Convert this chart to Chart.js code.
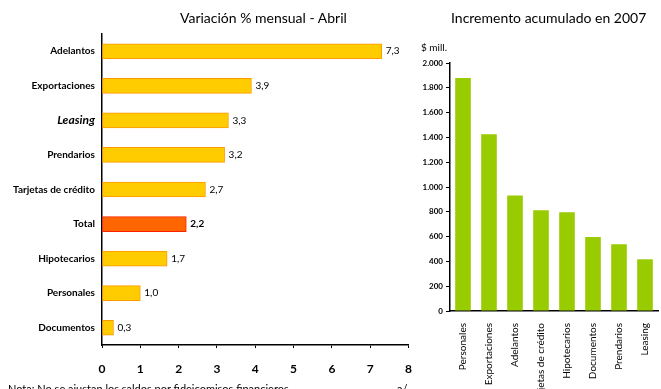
<!DOCTYPE html>
<html>
<head>
<meta charset="utf-8">
<script src="https://cdn.jsdelivr.net/npm/chart.js@4"></script>
<style>
  html, body { margin: 0; padding: 0; background: #fff; overflow: hidden; }
  body { width: 661px; height: 389px; position: relative; font-family: Lato, sans-serif; color: #000; }
  .title { position: absolute; top: 9px; font-size: 14px; white-space: nowrap; }
  #wrapLeft { position: absolute; left: 0; top: 0; width: 426px; height: 389px; }
  #wrapRight { position: absolute; left: 410px; top: 0; width: 251px; height: 389px; }
  .unit { position: absolute; left: 421px; top: 41px; font-size: 10px; }
  .note { position: absolute; left: 8px; top: 382px; font-size: 11px; white-space: nowrap; }
  .ref { position: absolute; left: 397px; top: 382px; font-size: 11px; }
</style>
</head>
<body>
<div id="wrapLeft"><canvas id="variacionChart"></canvas></div>
<div id="wrapRight"><canvas id="incrementoChart"></canvas></div>
<div class="title" style="left:180px">Variación % mensual - Abril</div>
<div class="title" style="left:451px">Incremento acumulado en 2007</div>
<div class="unit">$ mill.</div>
<div class="note">Nota: No se ajustan los saldos por fideicomisos financieros</div>
<div class="ref">a/</div>
<script>
// variación mensual (%) por línea de préstamo
const lineas = ['Adelantos', 'Exportaciones', 'Leasing', 'Prendarios', 'Tarjetas de crédito', 'Total', 'Hipotecarios', 'Personales', 'Documentos'];
const variacion = [7.3, 3.9, 3.3, 3.2, 2.7, 2.2, 1.7, 1.0, 0.3];

// incremento acumulado en 2007 ($ millones)
const lineasAcum = ['Personales', 'Exportaciones', 'Adelantos', 'Tarjetas de crédito', 'Hipotecarios', 'Documentos', 'Prendarios', 'Leasing'];
const incremento = [1880, 1425, 932, 812, 796, 596, 538, 417];

const FONT = 'Lato';
const fmtComa = v => v.toFixed(1).replace('.', ',');

// valor escrito al final de cada barra
const etiquetas = {
    id: 'etiquetas',
    afterDatasetsDraw(chart) {
        const ctx = chart.ctx;
        const meta = chart.getDatasetMeta(0);
        ctx.save();
        ctx.fillStyle = '#000';
        ctx.textBaseline = 'middle';
        meta.data.forEach((bar, i) => {
            const total = lineas[i] === 'Total';
            ctx.font = (total ? 'bold ' : '') + '10px ' + FONT;
            ctx.fillText(fmtComa(variacion[i]), bar.x + 4, bar.y);
        });
        ctx.restore();
    }
};

new Chart(document.getElementById('variacionChart'), {
    type: 'bar',
    data: {
        labels: lineas,
        datasets: [{
            data: variacion,
            backgroundColor: lineas.map(l => l === 'Total' ? '#FF6600' : '#FFCC00'),
            borderColor: lineas.map(l => l === 'Total' ? '#FF2200' : '#FF9900'),
            borderWidth: 1, borderSkipped: false,
            barThickness: 15
        }]
    },
    options: {
        indexAxis: 'y',
        responsive: true, maintainAspectRatio: false, animation: false,
        layout: { padding: { top: 34, right: 0, bottom: 11, left: 0 } },
        plugins: { legend: { display: false }, tooltip: { enabled: false } },
        scales: {
            x: {
                min: 0, max: 8,
                grid: { drawOnChartArea: false, color: '#000', tickLength: 3 },
                border: { color: '#000', width: 1.5 },
                ticks: { stepSize: 1, color: '#000', padding: 14, font: { family: FONT, size: 12, weight: 'bold' } },
                afterFit: s => { s.height = 33; }
            },
            y: {
                grid: { display: false, drawTicks: false },
                border: { color: '#000', width: 1.5 },
                ticks: {
                    color: '#000', padding: 7,
                    font: c => lineas[c.index] === 'Leasing'
                        ? { family: FONT, size: 12, weight: 'bold', style: 'italic' }
                        : { family: FONT, size: 10, weight: 'bold' }
                },
                afterFit: s => { s.width = 102; }
            }
        }
    },
    plugins: [etiquetas]
});

new Chart(document.getElementById('incrementoChart'), {
    type: 'bar',
    data: {
        labels: lineasAcum,
        datasets: [{ data: incremento, backgroundColor: '#99CC00', barPercentage: 0.6, categoryPercentage: 1 }]
    },
    options: {
        responsive: true, maintainAspectRatio: false, animation: false,
        layout: { padding: { top: 63, right: 0, bottom: 0, left: 0 } },
        plugins: { legend: { display: false }, tooltip: { enabled: false } },
        scales: {
            x: {
                grid: { display: false },
                border: { color: '#000', width: 1.5 },
                ticks: { color: '#000', autoSkip: false, minRotation: 90, maxRotation: 90, padding: 4, font: { family: FONT, size: 10 } },
                afterFit: s => { s.height = 78; }
            },
            y: {
                min: 0, max: 2000,
                grid: { drawOnChartArea: false, color: '#000', tickLength: 4 },
                border: { color: '#000', width: 1.5 },
                ticks: {
                    stepSize: 200, color: '#000', padding: 3,
                    font: { family: FONT, size: 8, weight: 'bold' },
                    callback: v => v.toLocaleString('es-AR')
                },
                afterFit: s => { s.width = 40; }
            }
        }
    }
});
</script>
</body>
</html>
